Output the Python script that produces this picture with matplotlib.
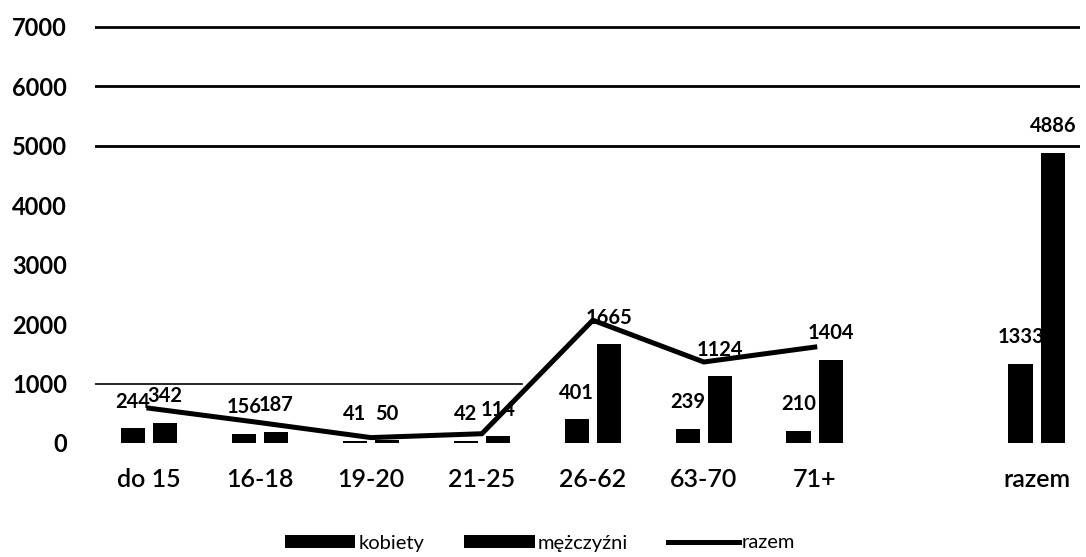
import matplotlib
matplotlib.use("Agg")
import matplotlib.pyplot as plt
import numpy as np

categories = ["do 15", "16-18", "19-20", "21-25", "26-62", "63-70", "71+", "razem"]
kobiety = [244, 156, 41, 42, 401, 239, 210, 1333]
mezczyzni = [342, 187, 50, 114, 1665, 1124, 1404, 4886]
razem_line = [586, 343, 91, 156, 2066, 1363, 1614]
yticks = [0, 1000, 2000, 3000, 4000, 5000, 6000, 7000]

plt.rcParams['font.family'] = ['Lato', 'DejaVu Sans']

fig = plt.figure(figsize=(10.86, 5.57), dpi=100)
ax = fig.add_axes([95/1086, 114/557, (1080-95)/1086, (536-114)/557])

pos = np.array([0, 1, 2, 3, 4, 5, 6, 8], dtype=float)
w = 0.22
off = 0.145
b1 = ax.bar(pos - off, kobiety, w, color='black', label='kobiety', zorder=3)
b2 = ax.bar(pos + off, mezczyzni, w, color='black', label='mężczyźni', zorder=3)
l1, = ax.plot(pos[:7], razem_line, color='black', lw=3.6, label='razem', zorder=4,
              solid_joinstyle='miter')

for x, v in zip(pos - off, kobiety):
    ax.annotate(str(v), (x, v), xytext=(0, 19), textcoords='offset points',
                ha='center', va='center', fontsize=14.5, fontweight='bold', zorder=5)
for x, v in zip(pos + off, mezczyzni):
    ax.annotate(str(v), (x, v), xytext=(0, 19), textcoords='offset points',
                ha='center', va='center', fontsize=14.5, fontweight='bold', zorder=5)

ax.set_xlim(-0.486, 8.39)
ax.set_ylim(0, 7100)

# gridlines as in the scanned original
for g in [5000, 6000, 7000]:
    ax.axhline(g, color='black', lw=2, zorder=1)
ax.axhline(1000, xmin=0, xmax=0.434, color='black', lw=1.2, zorder=1)

ax.set_yticks(yticks)
ax.set_yticklabels([str(t) for t in yticks], fontsize=17, fontweight='bold')
ax.set_xticks(pos)
ax.set_xticklabels(categories, fontsize=18, fontweight='semibold')
ax.tick_params(axis='both', length=0)
ax.tick_params(axis='x', pad=18)
ax.tick_params(axis='y', pad=20)
for s in ax.spines.values():
    s.set_visible(False)

leg = fig.legend([b1, b2, l1], ['kobiety', 'mężczyźni', 'razem'],
                 loc='center', bbox_to_anchor=(540/1086, 1 - 543/557), ncol=3,
                 frameon=False, fontsize=14.5, handlelength=3.5, handleheight=0.65,
                 handletextpad=0.15, columnspacing=2.0)

fig.savefig('out.png', dpi=100)
